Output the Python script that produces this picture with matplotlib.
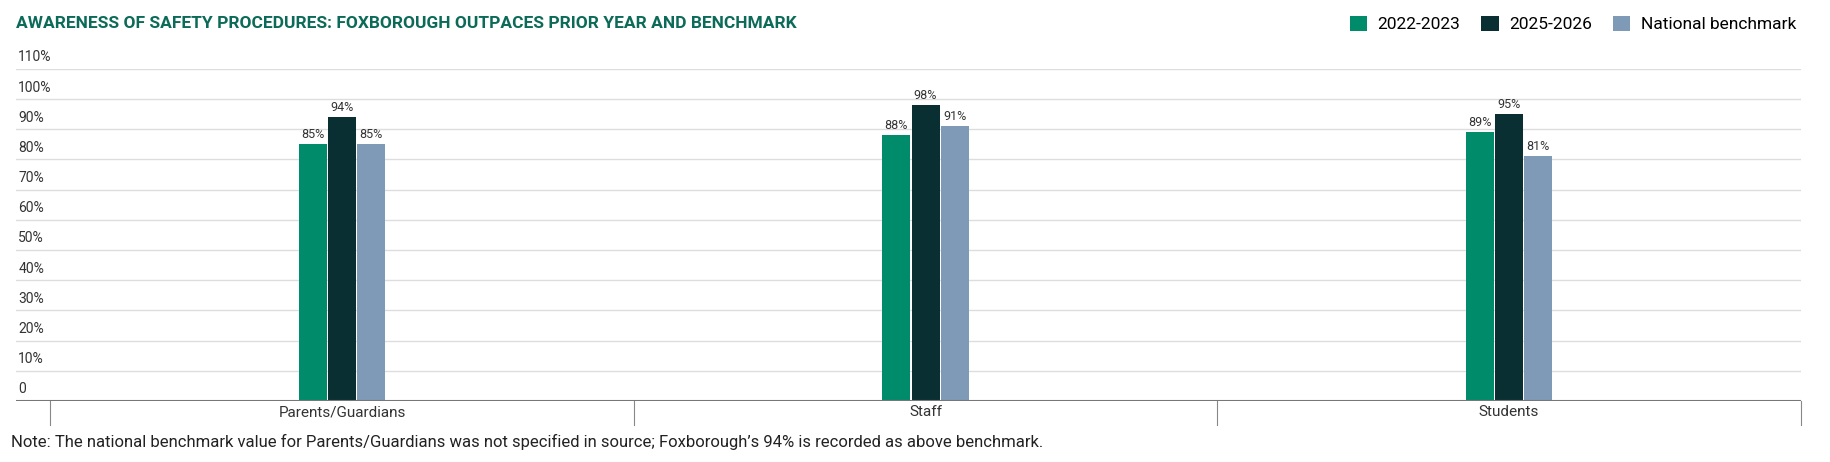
import matplotlib
matplotlib.use("Agg")
import matplotlib.pyplot as plt
import numpy as np

categories = ["Parents/Guardians", "Staff", "Students"]
series_names = ["2022-2023", "2025-2026", "National benchmark"]
v2022 = [85, 88, 89]
v2025 = [94, 98, 95]
vnat = [85, 91, 81]
yticks = [0, 10, 20, 30, 40, 50, 60, 70, 80, 90, 100, 110]
colors = ["#008c6a", "#0a2f33", "#7f9ab6"]

plt.rcParams['font.family'] = ['Roboto', 'DejaVu Sans']
fig = plt.figure(figsize=(18.3, 4.62), dpi=100)
ax = fig.add_axes([0.009, 0.132, 0.975, 0.719])
x = np.arange(len(categories))
w = 0.05
for i, (vals, name) in enumerate(zip([v2022, v2025, vnat], series_names)):
    bars = ax.bar(x + (i - 1) * w, vals, w * 0.96, color=colors[i], label=name, zorder=3)
    for b, v in zip(bars, vals):
        ax.text(b.get_x() + b.get_width() / 2, v + 1, f"{v}%", ha='center', va='bottom',
                fontsize=9, color='#333333')
ax.set_xlim(-0.558, 2.5)
ax.set_ylim(0, 110)
for s in ax.spines.values():
    s.set_visible(False)
ax.set_yticks(yticks)
ax.yaxis.grid(True, color='#dddddd', lw=1, zorder=0)
ax.tick_params(axis='y', length=0, labelleft=False)
for t in yticks:
    ax.text(-0.555, t + 1.5, "0" if t == 0 else f"{t}%", ha='left', va='bottom',
            fontsize=10, color='#333333')
ax.axhline(0, color='#777777', lw=1.5, zorder=4)
ax.set_xticks(x)
ax.set_xticklabels(categories, fontsize=11, color='#333333')
ax.tick_params(axis='x', length=0, pad=3)
for s in [-0.5, 0.5, 1.5, 2.5]:
    ax.plot([s, s], [0, -8], color='#888888', lw=0.8, clip_on=False)
fig.text(0.009, 0.95, "AWARENESS OF SAFETY PROCEDURES: FOXBOROUGH OUTPACES PRIOR YEAR AND BENCHMARK",
         fontsize=12.5, fontweight='bold', color='#0b6b58', ha='left', va='center')
fig.legend(loc='upper right', bbox_to_anchor=(0.99, 1.0), ncol=3, frameon=False,
           fontsize=12.5, handlelength=1.0, handleheight=1.0, columnspacing=1.2, handletextpad=0.6)
fig.text(0.006, 0.043, "Note: The national benchmark value for Parents/Guardians was not specified in source; Foxborough\u2019s 94% is recorded as above benchmark.",
         fontsize=12, color='#222222', ha='left', va='center')
fig.savefig("out.png", dpi=100, facecolor='white')
